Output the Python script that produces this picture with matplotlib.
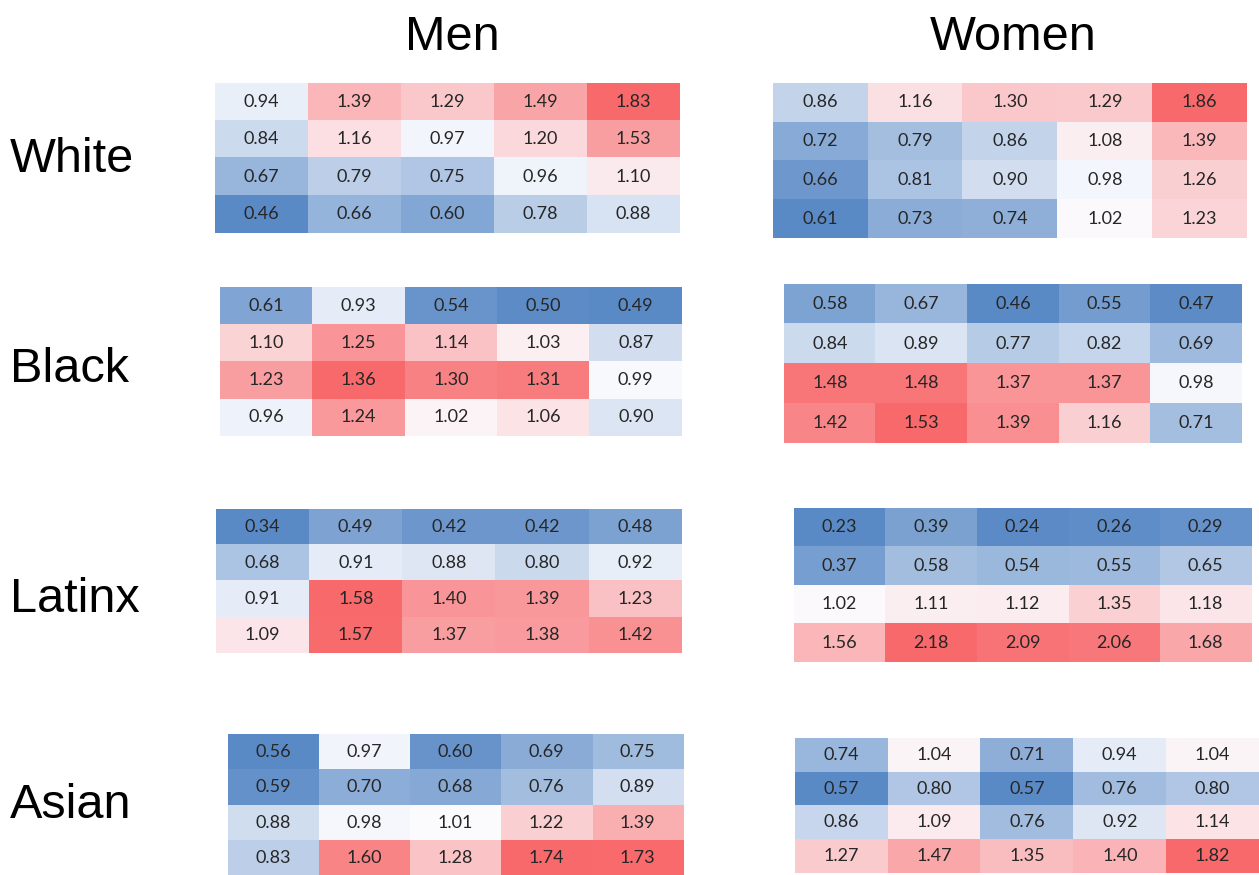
import numpy as np
import matplotlib.pyplot as plt
from matplotlib.colors import LinearSegmentedColormap, TwoSlopeNorm

# values, 4 rows x 5 columns per panel
white_men = [[0.94, 1.39, 1.29, 1.49, 1.83],
             [0.84, 1.16, 0.97, 1.20, 1.53],
             [0.67, 0.79, 0.75, 0.96, 1.10],
             [0.46, 0.66, 0.60, 0.78, 0.88]]
white_women = [[0.86, 1.16, 1.30, 1.29, 1.86],
               [0.72, 0.79, 0.86, 1.08, 1.39],
               [0.66, 0.81, 0.90, 0.98, 1.26],
               [0.61, 0.73, 0.74, 1.02, 1.23]]
black_men = [[0.61, 0.93, 0.54, 0.50, 0.49],
             [1.10, 1.25, 1.14, 1.03, 0.87],
             [1.23, 1.36, 1.30, 1.31, 0.99],
             [0.96, 1.24, 1.02, 1.06, 0.90]]
black_women = [[0.58, 0.67, 0.46, 0.55, 0.47],
               [0.84, 0.89, 0.77, 0.82, 0.69],
               [1.48, 1.48, 1.37, 1.37, 0.98],
               [1.42, 1.53, 1.39, 1.16, 0.71]]
latinx_men = [[0.34, 0.49, 0.42, 0.42, 0.48],
              [0.68, 0.91, 0.88, 0.80, 0.92],
              [0.91, 1.58, 1.40, 1.39, 1.23],
              [1.09, 1.57, 1.37, 1.38, 1.42]]
latinx_women = [[0.23, 0.39, 0.24, 0.26, 0.29],
                [0.37, 0.58, 0.54, 0.55, 0.65],
                [1.02, 1.11, 1.12, 1.35, 1.18],
                [1.56, 2.18, 2.09, 2.06, 1.68]]
asian_men = [[0.56, 0.97, 0.60, 0.69, 0.75],
             [0.59, 0.70, 0.68, 0.76, 0.89],
             [0.88, 0.98, 1.01, 1.22, 1.39],
             [0.83, 1.60, 1.28, 1.74, 1.73]]
asian_women = [[0.74, 1.04, 0.71, 0.94, 1.04],
               [0.57, 0.80, 0.57, 0.76, 0.80],
               [0.86, 1.09, 0.76, 0.92, 1.14],
               [1.27, 1.47, 1.35, 1.40, 1.82]]

groups = ["White", "Black", "Latinx", "Asian"]
sexes = ["Men", "Women"]

W, H = 1259, 875
fig = plt.figure(figsize=(W / 100, H / 100), dpi=100)

# excel-like 3 colour scale
cmap = LinearSegmentedColormap.from_list("xl", ["#5A8AC6", "#FCFCFF", "#F8696B"])

# pixel boxes (left, top, right, bottom) for each panel
boxes = {
    ("White", "Men"): (215, 83, 680, 233),
    ("White", "Women"): (773, 83, 1247, 238),
    ("Black", "Men"): (220, 287, 682, 436),
    ("Black", "Women"): (784, 284, 1242, 443),
    ("Latinx", "Men"): (216, 509, 682, 653),
    ("Latinx", "Women"): (794, 508, 1251, 662),
    ("Asian", "Men"): (228, 734, 683, 876),
    ("Asian", "Women"): (795, 738, 1259, 873),
}
panels = {
    ("White", "Men"): white_men, ("White", "Women"): white_women,
    ("Black", "Men"): black_men, ("Black", "Women"): black_women,
    ("Latinx", "Men"): latinx_men, ("Latinx", "Women"): latinx_women,
    ("Asian", "Men"): asian_men, ("Asian", "Women"): asian_women,
}
label_y = {"White": 160, "Black": 370, "Latinx": 600, "Asian": 805}

for key, vals in panels.items():
    l, t, r, b = boxes[key]
    ax = fig.add_axes([l / W, 1 - b / H, (r - l) / W, (b - t) / H])
    z = np.array(vals)
    norm = TwoSlopeNorm(vcenter=1.0, vmin=z.min(), vmax=z.max())
    ax.imshow(z, cmap=cmap, norm=norm, aspect="auto", interpolation="nearest")
    for i in range(z.shape[0]):
        for j in range(z.shape[1]):
            ax.text(j, i, f"{z[i, j]:.2f}", ha="center", va="center",
                    fontsize=13, family="Lato", color="#262626")
    ax.set_xticks([])
    ax.set_yticks([])
    for s in ax.spines.values():
        s.set_visible(False)

for g in groups:
    fig.text(10 / W, 1 - label_y[g] / H, g, ha="left", va="center",
             fontsize=35, family="Liberation Sans")

fig.text(452 / W, 1 - 38 / H, "Men", ha="center", va="center",
         fontsize=35, family="Liberation Sans")
fig.text(1013 / W, 1 - 38 / H, "Women", ha="center", va="center",
         fontsize=35, family="Liberation Sans")

fig.savefig("out.png", dpi=100)
